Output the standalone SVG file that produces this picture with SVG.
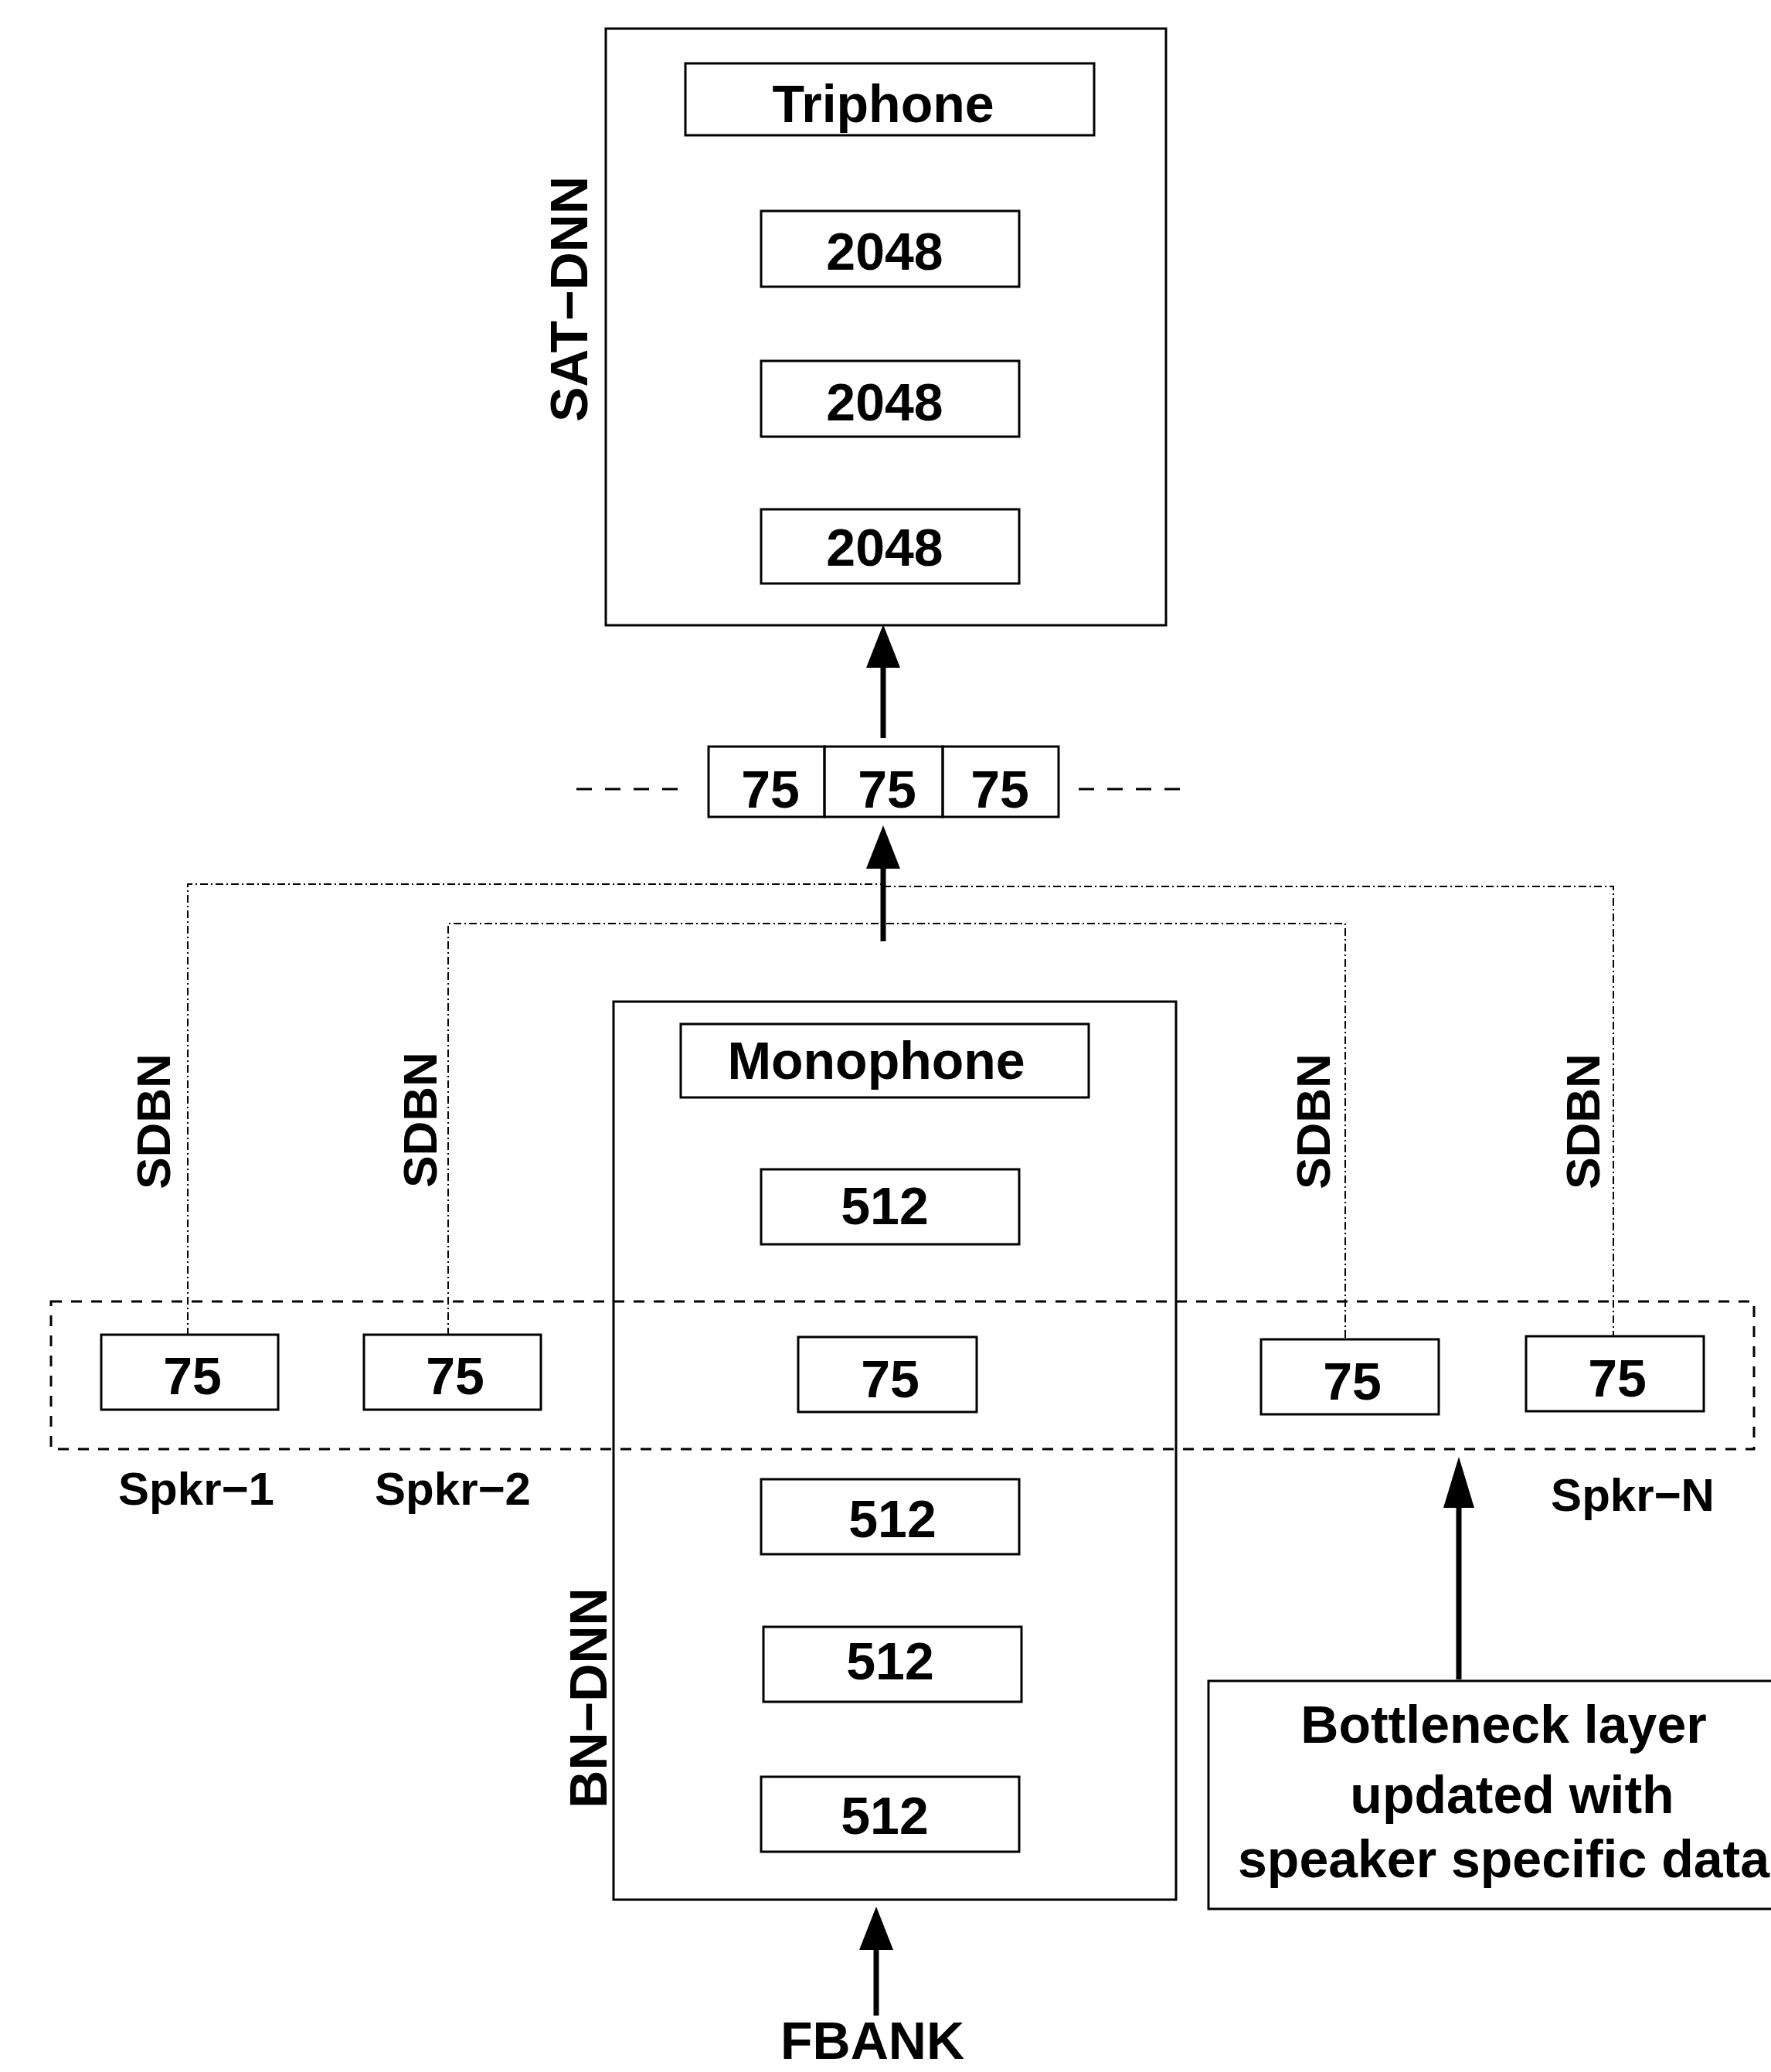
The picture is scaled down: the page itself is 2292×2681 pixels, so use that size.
<svg xmlns="http://www.w3.org/2000/svg" width="2292" height="2681" viewBox="0 0 2292 2681">
<style>
  .box{fill:none;stroke:#000;stroke-width:3}
  .t{font-family:"Liberation Sans",Arial,Helvetica,sans-serif;font-weight:bold;font-size:68px;fill:#000;text-anchor:middle}
  .s{font-family:"Liberation Sans",Arial,Helvetica,sans-serif;font-weight:bold;font-size:60px;fill:#000;text-anchor:middle}
  .sd{font-family:"Liberation Sans",Arial,Helvetica,sans-serif;font-weight:bold;font-size:62px;fill:#000;text-anchor:middle}
  .arr{fill:none;stroke:#000;stroke-width:7}
  .dd{fill:none;stroke:#000;stroke-width:2;stroke-dasharray:10 4 2 4}
  .dash{fill:none;stroke:#000;stroke-width:3;stroke-dasharray:14 12}
  .dash2{fill:none;stroke:#000;stroke-width:3;stroke-dasharray:20 17}
</style>
<defs>
  <marker id="ah" markerUnits="userSpaceOnUse" viewBox="0 0 56 44" refX="4" refY="22" markerWidth="56" markerHeight="44" orient="auto">
    <path d="M0,0 L56,22 L0,44 Z" fill="#000"/>
  </marker>
  <marker id="ah2" markerUnits="userSpaceOnUse" viewBox="0 0 66 40" refX="4" refY="20" markerWidth="66" markerHeight="40" orient="auto">
    <path d="M0,0 L66,20 L0,40 Z" fill="#000"/>
  </marker>
</defs>
<rect width="2292" height="2681" fill="#fff"/>

<g id="sat-dnn">
  <rect class="box" x="784" y="37" width="725" height="772"/>
  <text class="t" transform="translate(760,387) rotate(-90)">SAT−DNN</text>
</g>
<g id="triphone">
  <rect class="box" x="887" y="82" width="529" height="93"/>
  <text class="t" x="1143" y="158">Triphone</text>
</g>
<g id="sat-h3">
  <rect class="box" x="985" y="273" width="334" height="98"/>
  <text class="t" x="1145" y="349">2048</text>
</g>
<g id="sat-h2">
  <rect class="box" x="985" y="467" width="334" height="98"/>
  <text class="t" x="1145" y="544">2048</text>
</g>
<g id="sat-h1">
  <rect class="box" x="985" y="659" width="334" height="96"/>
  <text class="t" x="1145" y="732">2048</text>
</g>

<g id="concat">
  <rect class="box" x="917" y="966" width="150" height="91"/>
  <rect class="box" x="1067" y="966" width="153" height="91"/>
  <rect class="box" x="1220" y="966" width="150" height="91"/>
  <text class="t" x="997" y="1045">75</text>
  <text class="t" x="1148" y="1045">75</text>
  <text class="t" x="1294" y="1045">75</text>
  <line class="dash2" x1="746" y1="1021" x2="886" y2="1021"/>
  <line class="dash2" x1="1396" y1="1021" x2="1536" y2="1021"/>
</g>

<g id="speaker-group">
  <rect class="dash" x="66" y="1684" width="2204" height="191"/>
</g>

<g id="bn-dnn">
  <rect class="box" x="794" y="1296" width="728" height="1162"/>
  <text class="t" transform="translate(785,2197) rotate(-90)">BN−DNN</text>
</g>
<g id="monophone">
  <rect class="box" x="881" y="1325" width="528" height="95"/>
  <text class="t" x="1134" y="1396">Monophone</text>
</g>
<g id="bn-h4">
  <rect class="box" x="985" y="1513" width="334" height="97"/>
  <text class="t" x="1145" y="1584">512</text>
</g>
<g id="bn-bottleneck">
  <rect class="box" x="1033" y="1730" width="231" height="97"/>
  <text class="t" x="1152" y="1808">75</text>
</g>
<g id="bn-h3">
  <rect class="box" x="985" y="1914" width="334" height="97"/>
  <text class="t" x="1155" y="1989">512</text>
</g>
<g id="bn-h2">
  <rect class="box" x="988" y="2105" width="334" height="97"/>
  <text class="t" x="1152" y="2173">512</text>
</g>
<g id="bn-h1">
  <rect class="box" x="985" y="2299" width="334" height="97"/>
  <text class="t" x="1145" y="2373">512</text>
</g>

<g id="spkr-1">
  <rect class="box" x="131" y="1727" width="229" height="97"/>
  <text class="t" x="249" y="1804">75</text>
  <text class="s" x="254" y="1947">Spkr−1</text>
</g>
<g id="spkr-2">
  <rect class="box" x="471" y="1727" width="229" height="97"/>
  <text class="t" x="589" y="1804">75</text>
  <text class="s" x="586" y="1947">Spkr−2</text>
</g>
<g id="spkr-3">
  <rect class="box" x="1632" y="1733" width="230" height="97"/>
  <text class="t" x="1750" y="1811">75</text>
</g>
<g id="spkr-n">
  <rect class="box" x="1975" y="1729" width="230" height="97"/>
  <text class="t" x="2093" y="1807">75</text>
  <text class="s" x="2113" y="1955">Spkr−N</text>
</g>

<g id="note">
  <rect class="box" x="1564" y="2175" width="760" height="295"/>
  <text class="t" x="1946" y="2255">Bottleneck layer</text>
  <text class="t" x="1957" y="2346">updated with</text>
  <text class="t" x="1946" y="2429">speaker specific data</text>
</g>

<g id="fbank">
  <text class="t" x="1129" y="2664">FBANK</text>
</g>

<g id="connectors">
  <line class="arr" x1="1143" y1="955" x2="1143" y2="860" marker-end="url(#ah)"/>
  <line class="arr" x1="1143" y1="1218" x2="1143" y2="1120" marker-end="url(#ah)"/>
  <line class="arr" x1="1134" y1="2608" x2="1134" y2="2519" marker-end="url(#ah)"/>
  <line class="arr" x1="1888" y1="2173" x2="1888" y2="1947" marker-end="url(#ah2)"/>
  <polyline class="dd" points="243,1728 243,1144 1143,1144"/>
  <polyline class="dd" points="1143,1147 2088,1147 2088,1729"/>
  <polyline class="dd" points="580,1728 580,1195 1741,1195 1741,1733"/>
  <text class="sd" transform="translate(220,1451) rotate(-90)">SDBN</text>
  <text class="sd" transform="translate(565,1449) rotate(-90)">SDBN</text>
  <text class="sd" transform="translate(1721,1451) rotate(-90)">SDBN</text>
  <text class="sd" transform="translate(2070,1451) rotate(-90)">SDBN</text>
</g>
</svg>
